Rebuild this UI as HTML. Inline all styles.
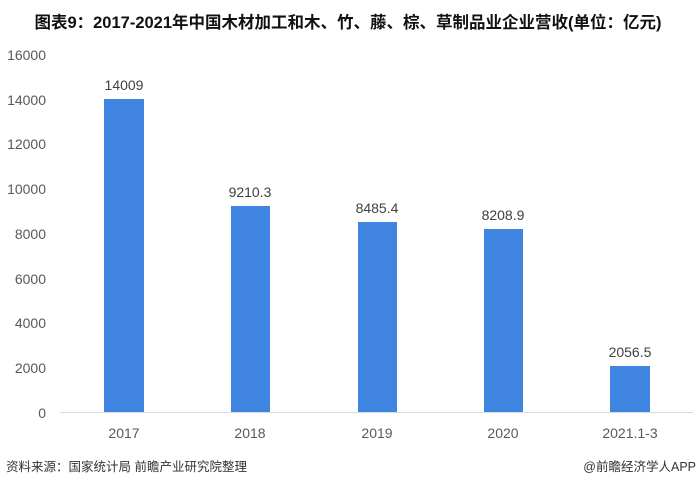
<!DOCTYPE html>
<html><head><meta charset="utf-8"><style>
body{margin:0;background:#fff;}
svg{display:block;font-family:"Liberation Sans","Noto Sans CJK SC",sans-serif;}
</style></head><body>
<svg width="700" height="487" viewBox="0 0 700 487">
<rect width="700" height="487" fill="#fff"/>
<text x="348" y="28" text-anchor="middle" font-size="16.5" font-weight="bold" fill="#111">图表9：2017-2021年中国木材加工和木、竹、藤、棕、草制品业企业营收(单位：亿元)</text>
<g font-size="14" fill="#595959" text-anchor="end">
<text x="46" y="60">16000</text>
<text x="46" y="105">14000</text>
<text x="46" y="149">12000</text>
<text x="46" y="194">10000</text>
<text x="46" y="239">8000</text>
<text x="46" y="284">6000</text>
<text x="46" y="328">4000</text>
<text x="46" y="373">2000</text>
<text x="46" y="418">0</text>
</g>
<line x1="60" y1="412.5" x2="693" y2="412.5" stroke="#d9d9d9" stroke-width="1"/>
<g fill="#3f84e0">
<rect x="104" y="99" width="40" height="313"/>
<rect x="231" y="206" width="39" height="206"/>
<rect x="358" y="222" width="39" height="190"/>
<rect x="484" y="229" width="39" height="183"/>
<rect x="610" y="366" width="40" height="46"/>
</g>
<g font-size="14" fill="#404040" text-anchor="middle">
<text x="124" y="90">14009</text>
<text x="250" y="197">9210.3</text>
<text x="377" y="213">8485.4</text>
<text x="503" y="220">8208.9</text>
<text x="630" y="357">2056.5</text>
</g>
<g font-size="14" fill="#595959" text-anchor="middle">
<text x="124" y="438">2017</text>
<text x="250" y="438">2018</text>
<text x="377" y="438">2019</text>
<text x="503" y="438">2020</text>
<text x="630" y="438">2021.1-3</text>
</g>
<text x="6" y="471" font-size="12.5" fill="#333">资料来源：国家统计局 前瞻产业研究院整理</text>
<text x="696" y="471" font-size="12.5" fill="#333" text-anchor="end">@前瞻经济学人APP</text>
</svg>
</body></html>
